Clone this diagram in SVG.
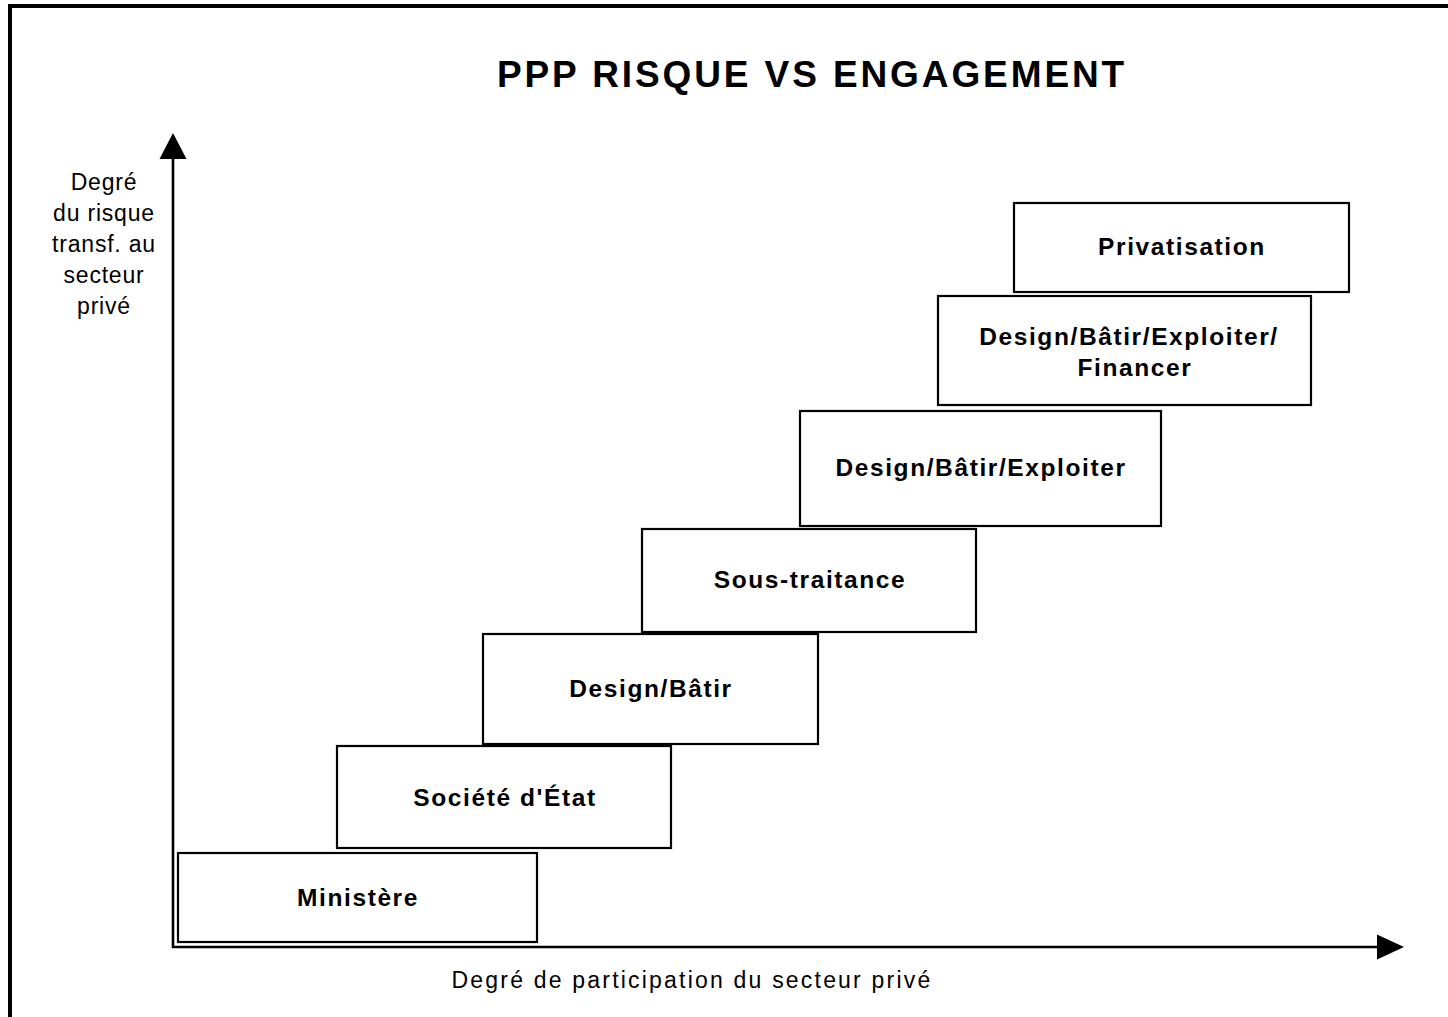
<svg xmlns="http://www.w3.org/2000/svg" width="1448" height="1017" viewBox="0 0 1448 1017">
<style>
.box{fill:#fff;stroke:#000;stroke-width:2.2}
.bt{font-family:"Liberation Sans",Arial,sans-serif;font-weight:bold;font-size:24.5px;letter-spacing:1.6px;text-anchor:middle;fill:#000}
.lt{font-family:"Liberation Sans",Arial,sans-serif;font-size:23px;letter-spacing:0.8px;text-anchor:middle;fill:#000}
.ax{stroke:#000;stroke-width:2.6;fill:none}
</style>
<rect x="0" y="0" width="1448" height="1017" fill="#fff"/>
<rect x="10" y="6" width="1500" height="1100" fill="none" stroke="#000" stroke-width="4"/>
<text x="812" y="87" font-family="'Liberation Sans',Arial,sans-serif" font-weight="bold" font-size="37" letter-spacing="2.9" text-anchor="middle">PPP RISQUE VS ENGAGEMENT</text>
<g id="connectors">
<line class="ax" x1="173" y1="948" x2="173" y2="156"/>
<polygon points="173,133 159.5,159 186.5,159"/>
<line class="ax" x1="172" y1="947" x2="1380" y2="947"/>
<polygon points="1404,947 1377,934.5 1377,959.5"/>
</g>
<g id="label-y">
<text class="lt" x="104" y="190">Degré</text>
<text class="lt" x="104" y="221">du risque</text>
<text class="lt" x="104" y="252">transf. au</text>
<text class="lt" x="104" y="283">secteur</text>
<text class="lt" x="104" y="314">privé</text>
</g>
<g id="label-x">
<text class="lt" x="692" y="988" style="letter-spacing:2.2px">Degré de participation du secteur privé</text>
</g>
<g id="n-ministere"><rect class="box" x="178" y="853" width="359" height="89"/><text class="bt" x="358" y="906">Ministère</text></g>
<g id="n-societe"><rect class="box" x="337" y="746" width="334" height="102"/><text class="bt" x="505" y="806">Société d'État</text></g>
<g id="n-design-batir"><rect class="box" x="483" y="634" width="335" height="110"/><text class="bt" x="651" y="697">Design/Bâtir</text></g>
<g id="n-sous-traitance"><rect class="box" x="642" y="529" width="334" height="103"/><text class="bt" x="810" y="588">Sous-traitance</text></g>
<g id="n-dbe"><rect class="box" x="800" y="411" width="361" height="115"/><text class="bt" x="981" y="476">Design/Bâtir/Exploiter</text></g>
<g id="n-dbef"><rect class="box" x="938" y="296" width="373" height="109"/><text class="bt" x="1129" y="345">Design/Bâtir/Exploiter/</text><text class="bt" x="1135" y="376">Financer</text></g>
<g id="n-privatisation"><rect class="box" x="1014" y="203" width="335" height="89"/><text class="bt" x="1182" y="255">Privatisation</text></g>
</svg>
